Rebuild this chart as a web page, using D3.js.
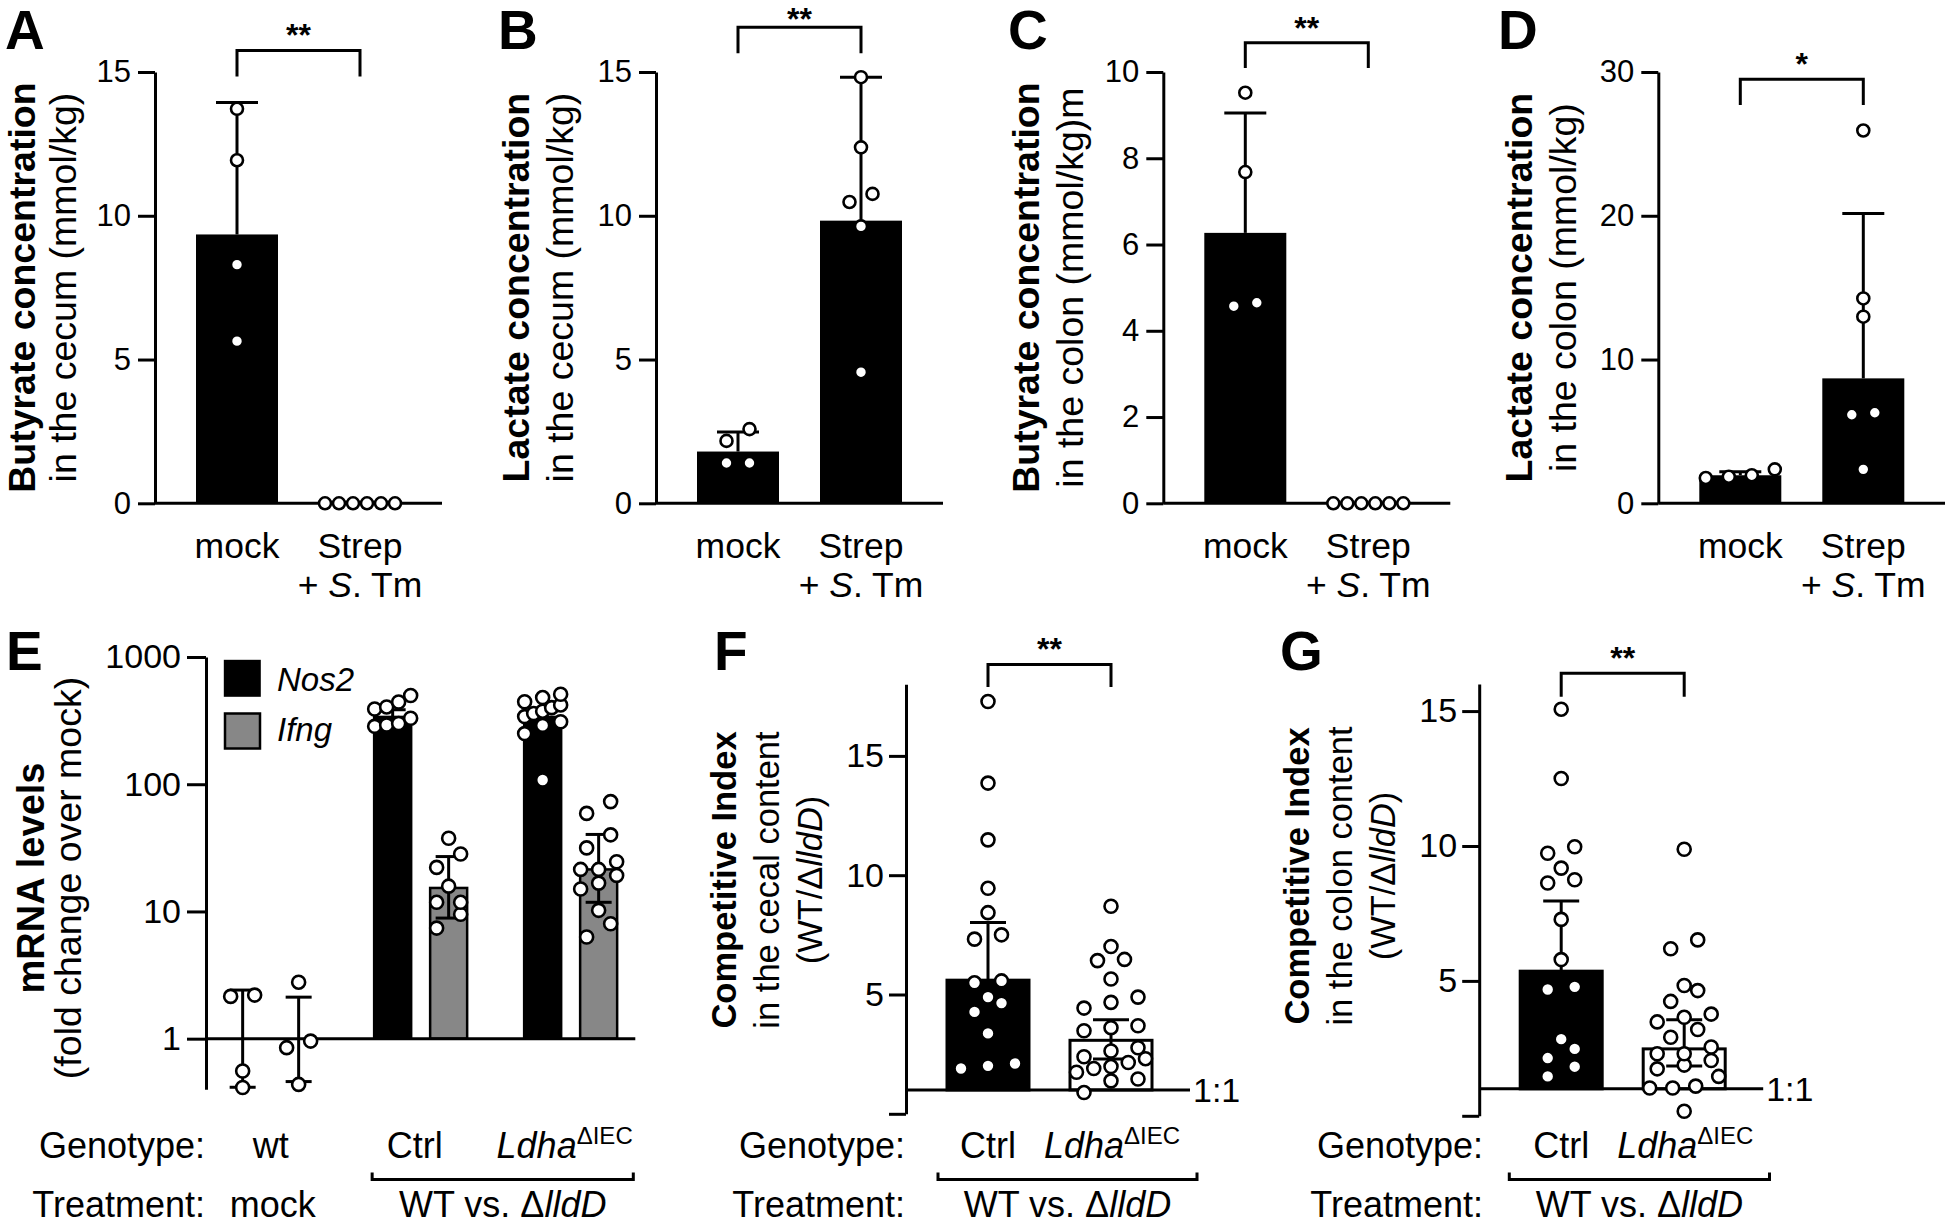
<!DOCTYPE html>
<html><head><meta charset="utf-8">
<script src="https://cdn.jsdelivr.net/npm/d3@7"></script>
<style>
body{margin:0;background:#fff}
svg{display:block}
text{font-family:"Liberation Sans",Arial,Helvetica,sans-serif;fill:#000}
</style>
</head><body>
<svg id="fig" width="1945" height="1225"></svg>
<script>
// ================= DATA =================
const topGroups = ["mock", "Strep"];
// A: butyrate, cecum
const butyrateCecumMock = [13.72, 11.93, 8.30, 5.64];
const butyrateCecumStrep = [0, 0, 0, 0, 0, 0];
const butyrateCecumBar = [9.35, 0];
const butyrateCecumErrHi = [13.94, 0];
const butyrateCecumTicks = [0, 5, 10, 15];
// B: lactate, cecum
const lactateCecumMock = [2.58, 2.17, 1.40, 1.40];
const lactateCecumStrep = [14.82, 12.38, 10.76, 10.48, 9.63, 4.56];
const lactateCecumBar = [1.80, 9.83];
const lactateCecumErrHi = [2.48, 14.82];
const lactateCecumTicks = [0, 5, 10, 15];
// C: butyrate, colon
const butyrateColonMock = [9.52, 7.68, 4.65, 4.57];
const butyrateColonStrep = [0, 0, 0, 0, 0, 0];
const butyrateColonBar = [6.27, 0];
const butyrateColonErrHi = [9.05, 0];
const butyrateColonTicks = [0, 2, 4, 6, 8, 10];
// D: lactate, colon
const lactateColonMock = [2.36, 1.95, 1.85, 1.76];
const lactateColonStrep = [25.93, 14.25, 12.98, 6.30, 6.16, 2.36];
const lactateColonBar = [1.95, 8.69];
const lactateColonErrHi = [2.20, 20.15];
const lactateColonTicks = [0, 10, 20, 30];

// E: mRNA levels (log)
const genotypesE = ["wt", "Ctrl", "Ldha"];
const genesE = ["Nos2", "Ifng"];
const nos2Wt = [2.20, 2.15, 0.557, 0.413];
const ifngWt = [2.78, 0.957, 0.85, 0.437];
const nos2Ctrl = [498, 443, 405, 390, 330, 300, 292, 285];
const ifngCtrl = [37.6, 28.3, 22.2, 15.8, 11.8, 11.8, 9.5, 7.4];
const nos2Ldha = [510, 480, 445, 420, 400, 375, 360, 340, 310, 290, 250, 108];
const ifngLdha = [73, 59, 40, 31.6, 24.6, 21.4, 21.4, 19.2, 16.7, 15.0, 10.2, 8.0, 6.3];
const nos2Bar = [1, 338, 338];
const ifngBar = [1, 15.3, 21.4];
const nos2ErrHi = [2.41, 385, 385];
const nos2ErrLo = [0.415, 295, 295];
const ifngErrHi = [2.12, 27.0, 40.3];
const ifngErrLo = [0.46, 8.87, 11.8];
const mrnaTicks = [1, 10, 100, 1000];

// F: competitive index, cecal content
const ciGroups = ["Ctrl", "Ldha"];
const ciCecumCtrl = [17.28, 13.86, 11.48, 9.45, 8.43, 7.50, 7.32, 5.57, 5.49, 4.89, 4.64, 4.27, 3.37, 2.11, 2.01, 1.90];
const ciCecumLdha = [8.70, 7.01, 6.47, 6.42, 5.65, 4.89, 4.67, 4.43, 3.69, 3.61, 3.48, 2.77, 2.63, 2.39, 2.31, 2.15, 1.98, 1.90, 1.74, 1.46, 1.38, 0.89];
const ciCecumBar = [5.60, 3.08];
const ciCecumErrHi = [8.02, 3.94];
const ciCecumErrLo = [3.9, 2.3];
const ciCecumTicks = [0, 5, 10, 15];
// G: competitive index, colon content
const ciColonCtrl = [15.07, 12.50, 9.97, 9.73, 9.18, 8.75, 8.63, 7.28, 5.79, 4.78, 4.68, 2.84, 2.48, 2.14, 1.82, 1.46];
const ciColonLdha = [9.88, 6.52, 6.19, 4.83, 4.64, 4.24, 3.77, 3.65, 3.48, 3.20, 2.91, 2.55, 2.30, 2.30, 2.05, 1.88, 1.74, 1.46, 1.10, 1.03, 1.03, 0.17];
const ciColonBar = [5.36, 2.48];
const ciColonErrHi = [7.96, 3.56];
const ciColonErrLo = [3.6, 1.85];
const ciColonTicks = [0, 5, 10, 15];

// significance brackets (A, B, C, D, F, G) in data units
const sigStars = ["**", "**", "**", "*", "**", "**"];
const sigBracketY = [15.75, 16.56, 10.68, 29.5, 18.83, 16.40];
const sigBracketDrop = [14.84, 15.65, 10.09, 27.7, 17.89, 15.53];

// texts
const panelLetters = ["A", "B", "C", "D", "E", "F", "G"];
const yTitleA = ["Butyrate concentration", "in the cecum (mmol/kg)"];
const yTitleB = ["Lactate concentration", "in the cecum (mmol/kg)"];
const yTitleC = ["Butyrate concentration", "in the colon (mmol/kg)m"];
const yTitleD = ["Lactate concentration", "in the colon (mmol/kg)"];
const yTitleE = ["mRNA levels", "(fold change over mock)"];
const yTitleF = ["Competitive Index", "in the cecal content"];
const yTitleG = ["Competitive Index", "in the colon content"];

// ================= DRAWING =================
const svg = d3.select("#fig");
svg.append("rect").attr("width", 1945).attr("height", 1225).attr("fill", "#fff");
const LW = 3;
const ROW_FONT = 36;
const TREAT_Y = 1217;

function dodge(values, y, spacing, maxW, thr) {
  const pts = values.map(v => ({v, py: y(v)})).sort((a, b) => b.py - a.py);
  const bins = [];
  let cur = null;
  pts.forEach(p => {
    if (cur && Math.abs(p.py - cur.start) < thr) cur.items.push(p);
    else { cur = {start: p.py, items: [p]}; bins.push(cur); }
  });
  bins.forEach(b => {
    const n = b.items.length;
    const s = n > 1 ? Math.min(spacing, maxW / (n - 1)) : 0;
    b.items.forEach((p, i) => p.dx = (i - (n - 1) / 2) * s);
  });
  return pts;
}
function drawPoints(g, values, cx, y, o) {
  const pts = dodge(values, y, o.spacing, o.maxW, o.thr);
  g.selectAll(null).data(pts).join("circle")
    .attr("cx", d => cx + d.dx).attr("cy", d => y(d.v)).attr("r", o.r)
    .attr("fill", "#fff").attr("stroke", "#000").attr("stroke-width", o.sw);
}
function errBar(g, cx, yHi, yLo, cap, capLo) {
  g.append("line").attr("x1", cx).attr("x2", cx).attr("y1", yLo).attr("y2", yHi)
    .attr("stroke", "#000").attr("stroke-width", LW);
  g.append("line").attr("x1", cx - cap / 2).attr("x2", cx + cap / 2).attr("y1", yHi).attr("y2", yHi)
    .attr("stroke", "#000").attr("stroke-width", LW);
  if (capLo) g.append("line").attr("x1", cx - cap / 2).attr("x2", cx + cap / 2).attr("y1", yLo).attr("y2", yLo)
    .attr("stroke", "#000").attr("stroke-width", LW);
}
function styleAxis(ax, size) {
  ax.attr("font-size", size).attr("font-family", '"Liberation Sans",Arial,sans-serif');
  ax.select(".domain").attr("stroke-width", LW);
  ax.selectAll(".tick line").attr("stroke-width", LW);
}
function hLine(g, x1, x2, y) {
  g.append("line").attr("x1", x1).attr("x2", x2).attr("y1", y).attr("y2", y)
    .attr("stroke", "#000").attr("stroke-width", LW);
}
function rotText(x, y, size, weight) {
  return svg.append("text").attr("transform", `translate(${x},${y}) rotate(-90)`)
    .attr("text-anchor", "middle").attr("font-size", size).attr("font-weight", weight || "normal");
}
function bracket(g, x1, x2, yB, yD, idx) {
  g.append("path").attr("d", `M${x1},${yD}V${yB}H${x2}V${yD}`)
    .attr("fill", "none").attr("stroke", "#000").attr("stroke-width", LW);
  g.append("text").attr("x", (x1 + x2) / 2).attr("y", Math.max(yB - 4, 30)).attr("text-anchor", "middle")
    .attr("font-size", 32).attr("font-weight", "bold").text(sigStars[idx]);
}
function letter(i, x, y) {
  svg.append("text").attr("x", x).attr("y", y).attr("font-size", 55).attr("font-weight", "bold").text(panelLetters[i]);
}
function ldhaLabel(x) {
  const l = svg.append("text").attr("x", x).attr("y", 1157.7).attr("text-anchor", "middle").attr("font-size", ROW_FONT);
  l.append("tspan").attr("font-style", "italic").text("Ldha");
  l.append("tspan").attr("font-size", 24).attr("dy", -14).text("ΔIEC");
}
function treatmentBracket(b1, b2) {
  svg.append("path").attr("d", `M${b1},1172.4V1179.4H${b2}V1172.4`).attr("fill", "none").attr("stroke", "#000").attr("stroke-width", LW);
  const w = svg.append("text").attr("x", (b1 + b2) / 2).attr("y", TREAT_Y).attr("text-anchor", "middle").attr("font-size", ROW_FONT);
  w.append("tspan").text("WT vs. Δ");
  w.append("tspan").attr("font-style", "italic").text("lldD");
}
function rowTitles(rx) {
  svg.append("text").attr("x", rx).attr("y", 1157.7).attr("text-anchor", "end").attr("font-size", ROW_FONT).text("Genotype:");
  svg.append("text").attr("x", rx).attr("y", TREAT_Y).attr("text-anchor", "end").attr("font-size", ROW_FONT).text("Treatment:");
}

// ---------- top row ----------
const topPanels = [
  {x0: 155, max: 15, ticks: butyrateCecumTicks, mock: butyrateCecumMock, strep: butyrateCecumStrep, bar: butyrateCecumBar, hi: butyrateCecumErrHi, title: yTitleA, tx: [35, 76], lx: 5},
  {x0: 656, max: 15, ticks: lactateCecumTicks, mock: lactateCecumMock, strep: lactateCecumStrep, bar: lactateCecumBar, hi: lactateCecumErrHi, title: yTitleB, tx: [529, 573], lx: 498},
  {x0: 1163.3, max: 10, ticks: butyrateColonTicks, mock: butyrateColonMock, strep: butyrateColonStrep, bar: butyrateColonBar, hi: butyrateColonErrHi, title: yTitleC, tx: [1039, 1083], lx: 1008},
  {x0: 1658.3, max: 30, ticks: lactateColonTicks, mock: lactateColonMock, strep: lactateColonStrep, bar: lactateColonBar, hi: lactateColonErrHi, title: yTitleD, tx: [1532, 1576], lx: 1498}
];
topPanels.forEach((p, pi) => {
  const g = svg.append("g");
  const y = d3.scaleLinear().domain([0, p.max]).range([503.3, 72]);
  const x = d3.scaleBand().domain(topGroups).range([p.x0, p.x0 + 287]).paddingInner(1 / 3).paddingOuter(1 / 3);
  const cx = d => x(d) + x.bandwidth() / 2;
  g.selectAll(null).data(topGroups).join("rect")
    .attr("x", d => x(d)).attr("width", x.bandwidth())
    .attr("y", (d, i) => y(p.bar[i])).attr("height", (d, i) => y(0) - y(p.bar[i])).attr("fill", "#000");
  const ax = g.append("g").attr("transform", `translate(${p.x0},0)`)
    .call(d3.axisLeft(y).tickValues(p.ticks).tickSize(17).tickPadding(7).tickSizeOuter(0));
  styleAxis(ax, 31);
  hLine(g, p.x0, p.x0 + 287, y(0));
  topGroups.forEach((c, i) => { if (p.hi[i] > p.bar[i]) errBar(g, cx(c), y(p.hi[i]), y(p.bar[i]), 42, false); });
  const opt = {spacing: 23, maxW: 70, thr: 14, r: 6, sw: 2.6};
  drawPoints(g, p.mock, cx("mock"), y, opt);
  drawPoints(g, p.strep, cx("Strep"), y, opt);
  bracket(g, cx("mock"), cx("Strep"), y(sigBracketY[pi]), y(sigBracketDrop[pi]), pi);
  // category labels
  g.append("text").attr("x", cx("mock")).attr("y", 558.3).attr("text-anchor", "middle").attr("font-size", 35.5).text("mock");
  g.append("text").attr("x", cx("Strep")).attr("y", 558.3).attr("text-anchor", "middle").attr("font-size", 35.5).text("Strep");
  const t = g.append("text").attr("x", cx("Strep")).attr("y", 596.7).attr("text-anchor", "middle").attr("font-size", 35.5);
  t.append("tspan").text("+ ");
  t.append("tspan").attr("font-style", "italic").text("S");
  t.append("tspan").text(". Tm");
  // titles
  rotText(p.tx[0], 287.6, 37.5, "bold").text(p.title[0]);
  rotText(p.tx[1], 287.6, 37.5).text(p.title[1]);
  letter(pi, p.lx, 49);
});

// ---------- E ----------
(function () {
  const g = svg.append("g");
  const x0 = 206, x1 = 635.3;
  const y = d3.scaleLog().domain([0.4, 1000]).range([1089.3, 657]);
  const xg = d3.scaleBand().domain(genotypesE).range([x0, x1]).paddingInner(0.38).paddingOuter(0.121);
  const xs = d3.scaleBand().domain(genesE).range([0, xg.bandwidth()]).paddingInner(0.339).paddingOuter(0);
  const bars = {Nos2: nos2Bar, Ifng: ifngBar};
  const hi = {Nos2: nos2ErrHi, Ifng: ifngErrHi};
  const lo = {Nos2: nos2ErrLo, Ifng: ifngErrLo};
  const pts = {Nos2: [nos2Wt, nos2Ctrl, nos2Ldha], Ifng: [ifngWt, ifngCtrl, ifngLdha]};
  const fill = {Nos2: "#000", Ifng: "#878787"};
  const cx = (gt, ge) => xg(gt) + xs(ge) + xs.bandwidth() / 2;
  genotypesE.forEach((gt, i) => genesE.forEach(ge => {
    const v = bars[ge][i];
    if (v > 1) g.append("rect").attr("x", xg(gt) + xs(ge)).attr("width", xs.bandwidth())
      .attr("y", y(v)).attr("height", y(1) - y(v)).attr("fill", fill[ge])
      .attr("stroke", "#000").attr("stroke-width", 2.5);
  }));
  const ax = g.append("g").attr("transform", `translate(${x0},0)`)
    .call(d3.axisLeft(y).tickValues(mrnaTicks).tickFormat(d3.format("d")).tickSize(19).tickPadding(6).tickSizeOuter(0));
  styleAxis(ax, 34);
  hLine(g, x0, x1, y(1));
  genotypesE.forEach((gt, i) => genesE.forEach(ge => {
    errBar(g, cx(gt, ge), y(hi[ge][i]), y(lo[ge][i]), 26, true);
  }));
  const opt = {spacing: 24, maxW: 36, thr: 14, r: 6.5, sw: 2.6};
  genotypesE.forEach((gt, i) => genesE.forEach(ge => drawPoints(g, pts[ge][i], cx(gt, ge), y, opt)));
  // legend
  g.append("rect").attr("x", 223.8).attr("y", 659.8).attr("width", 37).attr("height", 37).attr("fill", "#000");
  g.append("rect").attr("x", 225).attr("y", 713.5).attr("width", 35).attr("height", 35).attr("fill", "#878787").attr("stroke", "#000").attr("stroke-width", 2.5);
  g.append("text").attr("x", 277).attr("y", 691).attr("font-size", 33).attr("font-style", "italic").text("Nos2");
  g.append("text").attr("x", 277).attr("y", 741).attr("font-size", 33).attr("font-style", "italic").text("Ifng");
  rotText(44.3, 878, 38, "bold").text(yTitleE[0]);
  rotText(81, 878, 37.5).text(yTitleE[1]);
  letter(4, 6, 669.5);
  // bottom labels
  const gc = gt => xg(gt) + xg.bandwidth() / 2;
  rowTitles(205);
  svg.append("text").attr("x", gc("wt")).attr("y", 1157.7).attr("text-anchor", "middle").attr("font-size", ROW_FONT).text("wt");
  svg.append("text").attr("x", gc("wt") + 2).attr("y", TREAT_Y).attr("text-anchor", "middle").attr("font-size", ROW_FONT).text("mock");
  svg.append("text").attr("x", gc("Ctrl") - 6).attr("y", 1157.7).attr("text-anchor", "middle").attr("font-size", ROW_FONT).text("Ctrl");
  ldhaLabel(gc("Ldha") - 6);
  treatmentBracket(xg("Ctrl") - 2, x1 - 2);
})();

// ---------- F & G ----------
const ciPanels = [
  {x0: 906, yB: 1113.8, yT: 684.3, max: 18, ctrl: ciCecumCtrl, ldha: ciCecumLdha, bar: ciCecumBar, hi: ciCecumErrHi, lo: ciCecumErrLo, ticks: ciCecumTicks, title: yTitleF, tx: [736, 779, 822], ty: 880, sig: 4, li: 5, lx: 714, rx: 905, b: [938, 1197]},
  {x0: 1479.2, yB: 1115.8, yT: 684.1, max: 16, ctrl: ciColonCtrl, ldha: ciColonLdha, bar: ciColonBar, hi: ciColonErrHi, lo: ciColonErrLo, ticks: ciColonTicks, title: yTitleG, tx: [1309, 1352, 1395], ty: 876, sig: 5, li: 6, lx: 1280, rx: 1483, b: [1509.3, 1769.5]}
];
ciPanels.forEach(p => {
  const g = svg.append("g");
  const y = d3.scaleLinear().domain([0, p.max]).range([p.yB, p.yT]);
  const x = d3.scaleBand().domain(ciGroups).range([p.x0, p.x0 + 287]).paddingInner(1 / 3).paddingOuter(1 / 3);
  const cx = d => x(d) + x.bandwidth() / 2;
  ciGroups.forEach((c, i) => {
    g.append("rect").attr("x", x(c)).attr("width", x.bandwidth())
      .attr("y", y(p.bar[i])).attr("height", y(1) - y(p.bar[i]))
      .attr("fill", i === 0 ? "#000" : "#fff").attr("stroke", "#000").attr("stroke-width", LW);
  });
  const ax = g.append("g").attr("transform", `translate(${p.x0},0)`)
    .call(d3.axisLeft(y).tickValues(p.ticks).tickFormat(d => d === 0 ? "" : d).tickSize(17).tickPadding(5).tickSizeOuter(0));
  styleAxis(ax, 34);
  hLine(g, p.x0, p.x0 + 284, y(1));
  g.append("text").attr("x", p.x0 + 287).attr("y", y(1) + 12).attr("font-size", 34).text("1:1");
  ciGroups.forEach((c, i) => errBar(g, cx(c), y(p.hi[i]), y(p.lo[i]), 36, true));
  const opt = {spacing: 27, maxW: 69, thr: 14, r: 6.5, sw: 2.6};
  drawPoints(g, p.ctrl, cx("Ctrl"), y, opt);
  drawPoints(g, p.ldha, cx("Ldha"), y, opt);
  bracket(g, cx("Ctrl"), cx("Ldha"), y(sigBracketY[p.sig]), y(sigBracketDrop[p.sig]), p.sig);
  rotText(p.tx[0], p.ty, 34.5, "bold").text(p.title[0]);
  rotText(p.tx[1], p.ty, 34.5).text(p.title[1]);
  const t3 = rotText(p.tx[2], p.ty, 34.5);
  t3.append("tspan").text("(WT/Δ");
  t3.append("tspan").attr("font-style", "italic").text("lldD");
  t3.append("tspan").text(")");
  letter(p.li, p.lx, 669.5);
  rowTitles(p.rx);
  svg.append("text").attr("x", cx("Ctrl")).attr("y", 1157.7).attr("text-anchor", "middle").attr("font-size", ROW_FONT).text("Ctrl");
  ldhaLabel(cx("Ldha") + 1);
  treatmentBracket(p.b[0], p.b[1]);
});
</script>
</body></html>
